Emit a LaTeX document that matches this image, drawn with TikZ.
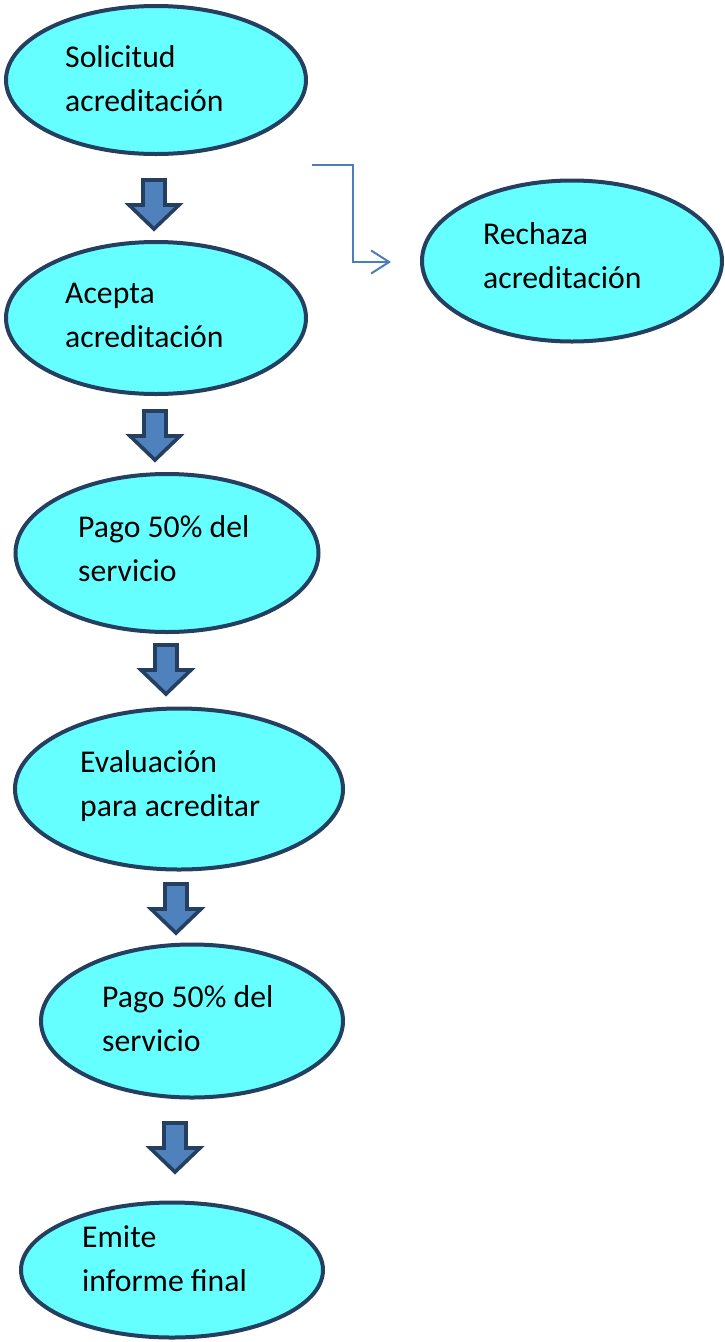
\documentclass[tikz,border=0pt]{standalone}
\usepackage{fontspec}
\setmainfont{Carlito}
\usetikzlibrary{shapes.geometric,arrows.meta}
\definecolor{ellfill}{HTML}{66FFFF}
\definecolor{navy}{HTML}{243F60}
\definecolor{arrfill}{HTML}{4F81BD}
\definecolor{connblue}{HTML}{4A7EBB}
\newcommand\twol[2]{\vtop{\baselineskip=44pt\hbox{#1}\hbox{#2}}}
\tikzset{
  stage/.style={ellipse, draw=navy, fill=ellfill, line width=4pt, inner sep=0pt},
  lbl/.style={anchor=base west, inner sep=0pt, font=\fontsize{31.7}{44}\selectfont, text=black},
  blockstyle/.style={draw=navy, fill=arrfill, line width=3.6pt, line join=miter},
  blockarr/.pic={\draw[blockstyle] (-11,2) -- (11,2) -- (11,27) -- (25,27) -- (0,51) -- (-25,27) -- (-11,27) -- cycle;},
  conn/.style={draw=connblue, line width=2pt, -{Straight Barb[length=18pt,width=23pt,line width=2pt]}}
}
\begin{document}
\begin{tikzpicture}[x=1pt,y=-1pt]
\useasboundingbox (0,0) rectangle (725,1342);
% stages
\node[stage, minimum width=300pt, minimum height=148pt] (e1) at (156,80) {};
\node[stage, minimum width=300pt, minimum height=152pt] (e2) at (156,318) {};
\node[stage, minimum width=303pt, minimum height=158pt] (e3) at (167,553) {};
\node[stage, minimum width=328pt, minimum height=161pt] (e4) at (179,789) {};
\node[stage, minimum width=302pt, minimum height=153pt] (e5) at (192,1021) {};
\node[stage, minimum width=302pt, minimum height=135pt] (e6) at (172,1270) {};
\node[stage, minimum width=300pt, minimum height=161pt] (e7) at (572,261) {};
% labels
\node[lbl] (t1) at (65,67) {\twol{Solicitud}{acreditación}};
\node[lbl] (t2) at (65,303) {\twol{Acepta}{acreditación}};
\node[lbl] (t3) at (78,537) {\twol{Pago 50\% del}{servicio}};
\node[lbl] (t4) at (80,772) {\twol{Evaluación}{para acreditar}};
\node[lbl] (t5) at (102,1007) {\twol{Pago 50\% del}{servicio}};
\node[lbl] (t6) at (82,1247) {\twol{Emite}{informe final}};
\node[lbl] (t7) at (483,244) {\twol{Rechaza}{acreditación}};
% block arrows
\pic at (154,178) {blockarr};
\pic at (155,409) {blockarr};
\pic at (166,643) {blockarr};
\pic at (176,882) {blockarr};
\pic at (175,1121) {blockarr};
% elbow connector
\coordinate (rs) at (312,165);
\coordinate (re) at (391,262);
\draw[conn] (rs) -- ++(41,0) |- (re);
\end{tikzpicture}
\end{document}
